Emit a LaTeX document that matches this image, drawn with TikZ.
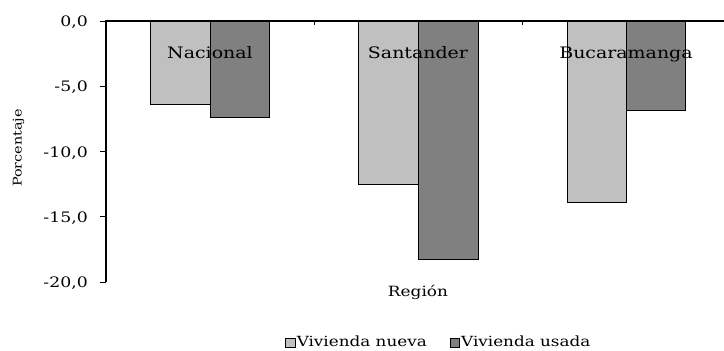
\documentclass[tikz,border=0pt]{standalone}
\usepackage{fontspec}
\setmainfont[FakeStretch=1.2]{DejaVu Serif}
\begin{document}
\begin{tikzpicture}[x=1pt,y=-1pt,
  catlbl/.style={font=\fontsize{15.8}{18}\selectfont, inner sep=0pt, anchor=base},
  ticklbl/.style={font=\fontsize{14.4}{17}\selectfont, inner sep=0pt, anchor=base east},
  xtitle/.style={font=\fontsize{14.1}{17}\selectfont, inner sep=0pt, anchor=base},
  ytitle/.style={font=\fontsize{12}{14}\selectfont, inner sep=0pt, rotate=90, anchor=base},
  leglbl/.style={font=\fontsize{14}{17}\selectfont, inner sep=0pt},
  legkey/.style={line width=0.7pt, minimum size=9.5pt, inner sep=0pt},
  newbar/.style={fill=lightbar, draw=black, line width=0.9pt},
  oldbar/.style={fill=darkbar, draw=black, line width=0.9pt},
  axis/.style={line width=1.4pt, black},
  tick/.style={line width=1pt, black}]
\definecolor{lightbar}{HTML}{C0C0C0}
\definecolor{darkbar}{HTML}{808080}
\useasboundingbox (0,0) rectangle (724,351);
% bars (value v -> y = 21 + 13.06*|v|)
\draw[newbar] (150,21) rectangle (210,104.6);
\draw[oldbar] (210,21) rectangle (269.5,117);
\draw[newbar] (358.5,21) rectangle (418,184);
\draw[oldbar] (418,21) rectangle (478,259);
\draw[newbar] (567,21) rectangle (626,202.3);
\draw[oldbar] (626,21) rectangle (685.5,110.7);
% axes
\coordinate (o) at (106,21);
\coordinate (yend) at (106,282.3);
\coordinate (xend) at (724,21);
\draw[axis] (yend) -- (o) -- (xend);
\foreach \v/\t in {0/0,5/-5,10/-10,15/-15,20/-20}{
  \draw[tick] (100,21+13.065*\v) -- (106,21+13.065*\v);
  \node[ticklbl] (t\v) at (88,26.5+13.065*\v) {\t,0};
}
\draw[tick] (314,21) -- (314,25);
\draw[tick] (522,21) -- (522,25);
% category labels
\node[catlbl] (nac) at (210,58) {Nacional};
\node[catlbl] (san) at (418,58) {Santander};
\node[catlbl] (buc) at (626,58) {Bucaramanga};
% axis titles
\node[ytitle] (ylab) at (21.5,148) {Porcentaje};
\node[xtitle] (xlab) at (418,296) {Región};
% legend
\node[leglbl, anchor=base east] (l1) at (427,346.5) {Vivienda nueva};
\node[newbar, legkey] (k1) at ([xshift=-6pt]l1.west |- 0,343) {};
\node[oldbar, legkey] (k2) at (455,343) {};
\node[leglbl, anchor=base west] (l2) at (461,346.5) {Vivienda usada};
\end{tikzpicture}
\end{document}
